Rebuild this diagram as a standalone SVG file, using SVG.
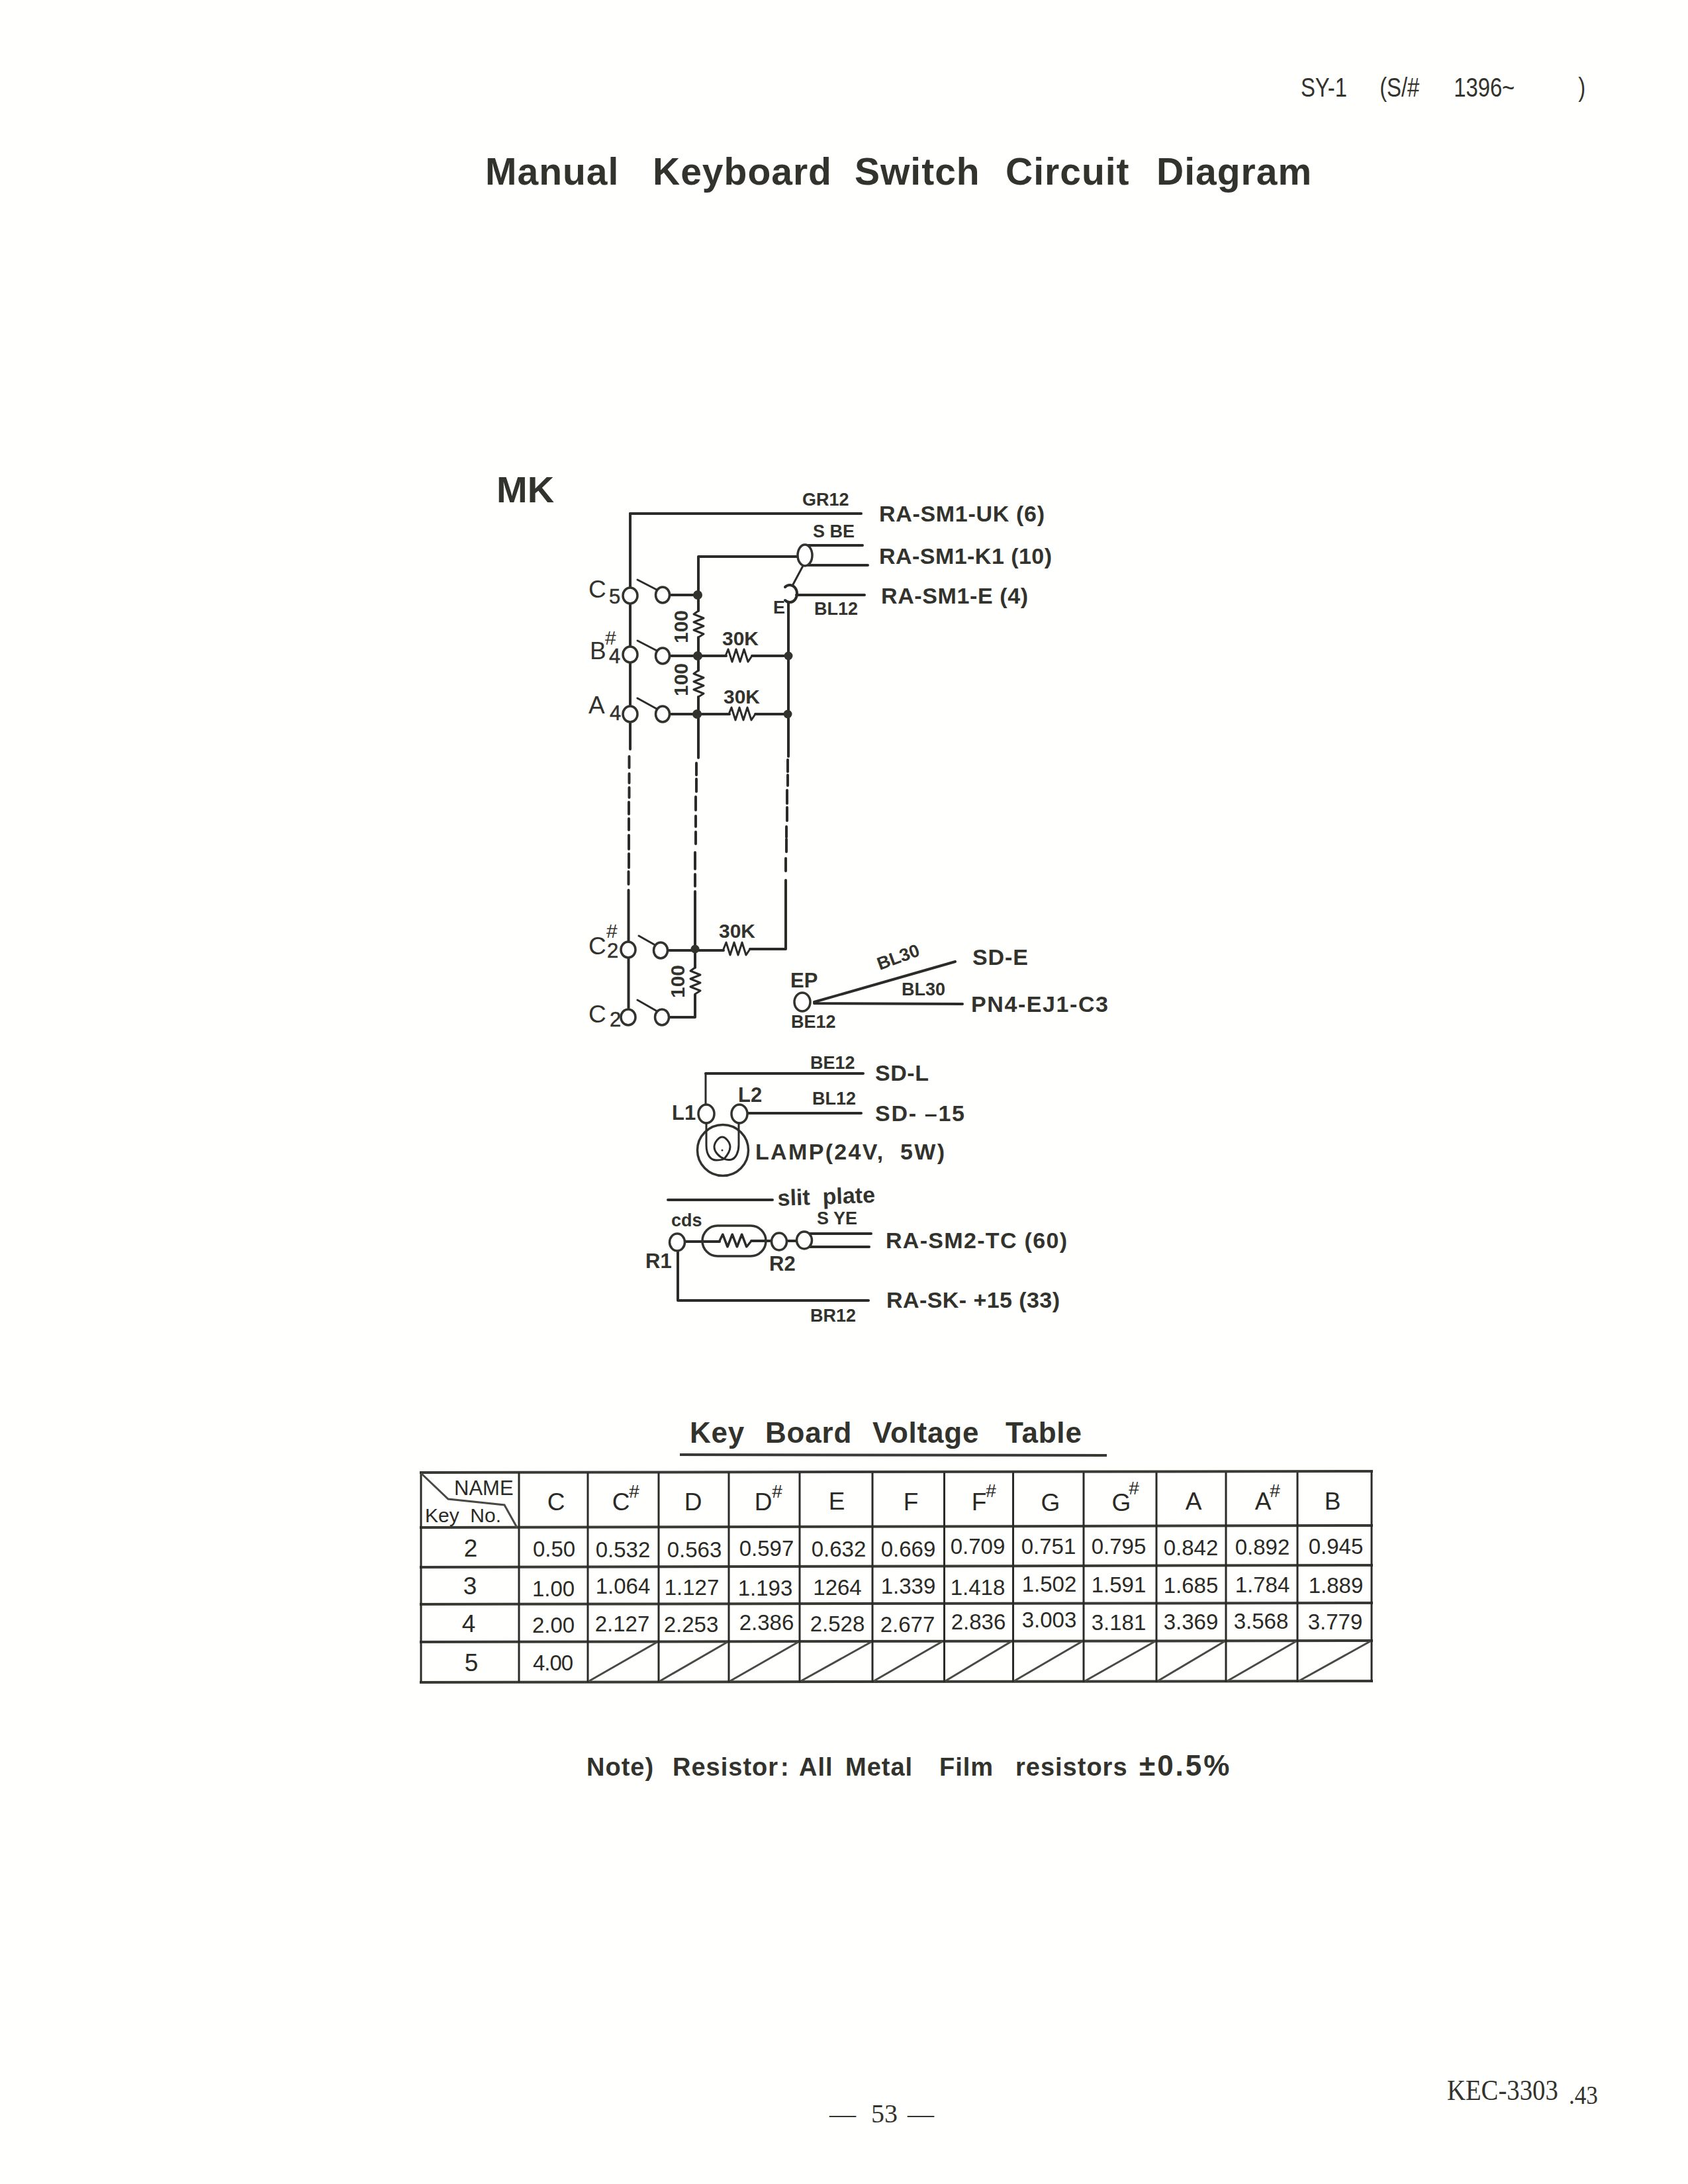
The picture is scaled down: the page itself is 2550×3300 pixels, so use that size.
<svg xmlns="http://www.w3.org/2000/svg" width="2550" height="3300" viewBox="0 0 2550 3300">
<style>
text{font-family:"Liberation Sans",Arial,sans-serif;fill:#33332e}
.b{font-weight:700}
.title{font-size:57px;letter-spacing:1px;font-weight:700}
.ttl2{font-size:44px;letter-spacing:.8px;font-weight:700}
.note{font-size:38px;letter-spacing:1px;font-weight:700}
.pct{font-size:44px;letter-spacing:3px}
.lab{font-size:34px;font-weight:700}
.wire{font-size:27px;font-weight:700}
.res{font-size:30px;font-weight:700}
.pin{font-size:31px;font-weight:700}
.key{font-size:37px}
.sub{font-size:31px;stroke:#33332e;stroke-width:.5px}
.sh{font-size:30px}
.t{font-size:33px;text-anchor:middle;fill:#2a2a26}
.h{font-size:37px;text-anchor:middle;fill:#2a2a26}
.s{font-size:28px;fill:#2a2a26}
.nm{font-size:31px;fill:#2a2a26}
.serif{font-family:"Liberation Serif","Times New Roman",serif}
.w{fill:none;stroke:#2b2b27;stroke-width:4;stroke-linecap:round;stroke-linejoin:round}
.thin{fill:none;stroke:#2b2b27;stroke-width:3;stroke-linecap:round;stroke-linejoin:round}
.term{fill:#fff;stroke:#33332e;stroke-width:3.5}
.dot{fill:#33332e}
.tl{stroke:#3a3a35;stroke-width:4;stroke-linecap:square;fill:none}
.tv{stroke:#2a2a26;stroke-width:3;fill:none}
.ts{stroke:#4a4a44;stroke-width:3;fill:none}
</style>
<defs>
<path id="rh" class="thin" d="M0 0L4 -10L10 9L16 -10L22 9L28 -10L34 9L40 0"/>
<path id="rv" class="thin" d="M0 0L-7 5L8 11L-7 17L8 23L-7 29L8 35L0 40"/>
</defs>
<rect width="2550" height="3300" fill="#fffffd"/>

<g id="header">
<text transform="translate(1965 146) scale(.8 1)" font-size="41"><tspan x="0">SY-1</tspan> <tspan x="149">(S/#</tspan> <tspan x="289">1396~</tspan> <tspan x="524">)</tspan></text>
<text class="title" y="279"><tspan x="733">Manual</tspan> <tspan x="986">Keyboard</tspan> <tspan x="1291">Switch</tspan> <tspan x="1519">Circuit</tspan> <tspan x="1747">Diagram</tspan></text>
<text x="750" y="759" font-size="56" class="b">MK</text>
</g>

<g id="connectors">
<path class="w" d="M952 776H1301"/>
<path class="w" d="M952 776V890M952 912V976M952 1002V1066M952 1092V1132"/>
<path class="w" d="M950.500 1143V1160M950.500 1169V1183M950.500 1190V1205M950 1212V1230M950 1237V1254M950 1262V1283M950 1290V1311M949.500 1317V1336M949.500 1345V1422M949.500 1448V1523"/>
<path class="w" d="M1055 841H1205M1055 841V923M1055 963V1013M1055 1053V1145"/>
<path class="w" d="M1052 1153V1171M1052 1177V1196M1051 1204V1224M1051 1233V1249M1051 1257V1275M1050 1288V1313M1050 1321V1339M1050 1347V1462M1050 1503V1537H1012"/>
<path class="w" d="M1216 824H1303M1216 854H1311M1203 899H1306M1191 910V1143"/>
<path class="thin" d="M1213 855L1197 885"/>
<path class="w" d="M1190 1148V1166M1190 1171V1187M1189 1194V1214M1189 1220V1240M1188 1249V1265M1188 1268V1287M1187 1297V1316M1187 1330V1434H1133"/>
<path class="w" d="M1011 899H1055M1011 991H1097M1136 991H1191M1011 1079H1102M1141 1079H1191M1008 1436H1093"/>
<path class="w" d="M1230 1514L1443 1453M1230 1516L1454 1517"/>
<path class="w" d="M1066 1622H1304M1129 1682H1301"/>
<path class="thin" d="M1066 1622V1670"/>
<path class="w" d="M1009 1813H1167"/>
<path class="w" d="M1034 1876H1087M1135 1875H1166M1188 1875H1204M1215 1864H1316M1215 1884H1313"/>
<path class="w" d="M1024 1890V1965H1312"/>
</g>

<g id="resistors">
<use href="#rv" x="1055" y="923"/>
<use href="#rv" x="1055" y="1013"/>
<use href="#rv" x="1050" y="1462"/>
<use href="#rh" x="1096" y="991"/>
<use href="#rh" x="1101" y="1079"/>
<use href="#rh" x="1093" y="1434"/>
<text class="res" transform="translate(1039 947) rotate(-90)" text-anchor="middle">100</text>
<text class="res" transform="translate(1039 1027) rotate(-90)" text-anchor="middle">100</text>
<text class="res" transform="translate(1034 1483) rotate(-90)" text-anchor="middle">100</text>
<text class="res" x="1091" y="975">30K</text>
<text class="res" x="1093" y="1063">30K</text>
<text class="res" x="1086" y="1417">30K</text>
</g>

<g id="key-C5">
<ellipse class="term" cx="952" cy="900" rx="11" ry="12"/><ellipse class="term" cx="1001" cy="899" rx="10.500" ry="12"/>
<path class="thin" d="M963 876L992 891"/><circle class="dot" cx="1054" cy="899" r="7"/>
<text class="key"><tspan x="889" y="903">C</tspan><tspan class="sub" x="920" y="912">5</tspan></text>
</g>
<g id="key-B4">
<ellipse class="term" cx="952" cy="989" rx="11" ry="12"/><ellipse class="term" cx="1001" cy="991" rx="10.500" ry="12"/>
<path class="thin" d="M963 968L992 983"/><circle class="dot" cx="1054" cy="991" r="7"/><circle class="dot" cx="1191" cy="991" r="6.500"/>
<text class="key"><tspan x="891" y="996">B</tspan><tspan class="sh" x="914" y="974">#</tspan><tspan class="sub" x="920" y="1002">4</tspan></text>
</g>
<g id="key-A4">
<ellipse class="term" cx="952" cy="1079" rx="11" ry="12"/><ellipse class="term" cx="1001" cy="1079" rx="10.500" ry="12"/>
<path class="thin" d="M963 1055L992 1071"/><circle class="dot" cx="1053" cy="1079" r="7"/><circle class="dot" cx="1190" cy="1079" r="6.500"/>
<text class="key"><tspan x="889" y="1078">A</tspan><tspan class="sub" x="921" y="1088">4</tspan></text>
</g>
<g id="key-C2s">
<ellipse class="term" cx="949" cy="1435" rx="11" ry="12"/><ellipse class="term" cx="998" cy="1436" rx="10.500" ry="12"/>
<path class="thin" d="M965 1414L988 1427"/><circle class="dot" cx="1050" cy="1434" r="6.500"/>
<text class="key"><tspan x="889" y="1442">C</tspan><tspan class="sh" x="916" y="1417">#</tspan><tspan class="sub" x="917" y="1447">2</tspan></text>
</g>
<g id="key-C2">
<ellipse class="term" cx="949" cy="1537" rx="11" ry="12"/><ellipse class="term" cx="1000" cy="1537" rx="10.500" ry="12"/>
<path class="thin" d="M963 1511L991 1527"/>
<text class="key"><tspan x="889" y="1545">C</tspan><tspan class="sub" x="921" y="1551">2</tspan></text>
</g>

<g id="wire-labels-top">
<text class="wire" x="1212" y="764">GR12</text>
<text class="wire" x="1228" y="812">S BE</text>
<text class="wire" x="1230" y="929">BL12</text>
<text class="lab" x="1328" y="788" textLength="250">RA-SM1-UK (6)</text>
<text class="lab" x="1328" y="852" textLength="261">RA-SM1-K1 (10)</text>
<text class="lab" x="1331" y="912" textLength="222">RA-SM1-E (4)</text>
</g>
<g id="shield-k1">
<ellipse class="term" cx="1216" cy="839" rx="11" ry="16"/>
</g>
<g id="terminal-E">
<path class="w" d="M1186 887A11 13 0 1 1 1186 907" fill="#fff"/>
<text class="pin" x="1168" y="927" style="font-size:27px">E</text>
</g>

<g id="terminal-EP">
<ellipse class="term" cx="1212" cy="1514" rx="12" ry="14"/>
<text class="pin" x="1194" y="1492">EP</text>
<text class="wire" x="1195" y="1553">BE12</text>
<text class="wire" transform="translate(1329 1466) rotate(-20)">BL30</text>
<text class="wire" x="1362" y="1504">BL30</text>
<text class="lab" x="1469" y="1458" textLength="84">SD-E</text>
<text class="lab" x="1467" y="1529" textLength="207">PN4-EJ1-C3</text>
</g>

<g id="lamp">
<ellipse class="term" cx="1067" cy="1683" rx="12" ry="14"/>
<ellipse class="term" cx="1117" cy="1683" rx="12" ry="14"/>
<circle cx="1092" cy="1738" r="38.500" fill="none" stroke="#33332e" stroke-width="3.500"/>
<path class="thin" d="M1067 1697V1730C1067 1746 1074 1753 1082 1753C1088 1753 1092 1752 1094 1751C1100 1744 1103 1738 1103 1733C1103 1726 1096 1718 1091 1718C1086 1718 1079 1726 1079 1733C1079 1740 1086 1748 1094 1751C1098 1753 1101 1753 1105 1752C1112 1750 1116 1740 1116 1730V1697"/>
<circle class="dot" cx="1091" cy="1738" r="1.500"/>
<text class="wire" x="1224" y="1615">BE12</text>
<text class="wire" x="1227" y="1669">BL12</text>
<text class="lab" x="1322" y="1633" textLength="81">SD-L</text>
<text class="lab" x="1322" y="1694" textLength="135">SD- –15</text>
<text class="pin" x="1015" y="1692">L1</text>
<text class="pin" x="1115" y="1665">L2</text>
<text class="lab" x="1141" y="1752" textLength="286">LAMP(24V,&#160;&#160;5W)</text>
</g>

<g id="cds">
<ellipse class="term" cx="1023" cy="1877" rx="11.500" ry="13"/>
<rect x="1061" y="1852" width="96" height="46" rx="23" fill="none" stroke="#33332e" stroke-width="3.500"/>
<use href="#rh" transform="translate(1087 1875) scale(1.200 1)"/>
<ellipse class="term" cx="1177" cy="1876" rx="11.500" ry="13"/>
<ellipse class="term" cx="1215" cy="1874" rx="11.500" ry="13"/>
<text class="lab" transform="translate(1175 1822) rotate(-2)">slit&#160;&#160;plate</text>
<text class="wire" x="1014" y="1853">cds</text>
<text class="wire" x="1234" y="1850">S YE</text>
<text class="pin" x="975" y="1916">R1</text>
<text class="pin" x="1162" y="1920">R2</text>
<text class="wire" x="1224" y="1997">BR12</text>
<text class="lab" x="1338" y="1886" textLength="274">RA-SM2-TC (60)</text>
<text class="lab" x="1339" y="1976" textLength="262">RA-SK- +15 (33)</text>
</g>

<g id="voltage-table">
<text class="ttl2" y="2180"><tspan x="1042">Key</tspan> <tspan x="1156">Board</tspan> <tspan x="1318">Voltage</tspan> <tspan x="1519">Table</tspan></text>
<path class="tl" d="M1029 2198L1670 2199"/>
<path class="tl" d="M636 2225L2072 2223M636 2308L2072 2305M636 2368L2072 2365M636 2424L2072 2422M636 2481L2072 2479M636 2542L2072 2540"/>
<path class="tv" d="M636 2225V2542M784 2225V2542M888 2225V2542M995 2225V2542M1101 2225V2542M1208 2225V2542M1318 2225V2542M1426.500 2225V2542M1530.500 2225V2542M1637 2225V2542M1747 2225V2542M1852 2225V2542M1960 2225V2542M2072 2223V2541"/>
<path class="ts" d="M636 2226L677 2265L762 2274L781 2308"/>
<path class="ts" d="M890 2540L993 2481M997 2540L1099 2481M1103 2540L1206 2481M1210 2540L1316 2481M1320 2540L1424 2480M1428 2540L1528 2480M1532 2540L1635 2480M1639 2540L1745 2480M1749 2540L1850 2480M1854 2540L1958 2480M1962 2540L2070 2480"/>
<text class="nm" x="686" y="2259">NAME</text>
<text class="nm" x="642" y="2300" style="font-size:30px">Key&#160;&#160;No.</text>
<text class="h" x="840" y="2282">C</text>
<text class="h"><tspan x="938" y="2282">C</tspan><tspan class="s" x="958" y="2263">#</tspan></text>
<text class="h" x="1047" y="2282">D</text>
<text class="h"><tspan x="1153" y="2282">D</tspan><tspan class="s" x="1174" y="2263">#</tspan></text>
<text class="h" x="1264" y="2281">E</text>
<text class="h" x="1376" y="2282">F</text>
<text class="h"><tspan x="1479" y="2282">F</tspan><tspan class="s" x="1497" y="2262">#</tspan></text>
<text class="h" x="1587" y="2283">G</text>
<text class="h"><tspan x="1694" y="2283">G</tspan><tspan class="s" x="1713" y="2258">#</tspan></text>
<text class="h" x="1803" y="2281">A</text>
<text class="h"><tspan x="1908" y="2281">A</tspan><tspan class="s" x="1926" y="2262">#</tspan></text>
<text class="h" x="2013" y="2281">B</text>

<text class="h" x="711" y="2352">2</text>
<text class="t" x="837" y="2352">0.50</text>
<text class="t" x="941" y="2353">0.532</text>
<text class="t" x="1049" y="2353">0.563</text>
<text class="t" x="1158" y="2351">0.597</text>
<text class="t" x="1267" y="2352">0.632</text>
<text class="t" x="1372" y="2352">0.669</text>
<text class="t" x="1477" y="2348">0.709</text>
<text class="t" x="1584" y="2348">0.751</text>
<text class="t" x="1690" y="2348">0.795</text>
<text class="t" x="1799" y="2350">0.842</text>
<text class="t" x="1907" y="2349">0.892</text>
<text class="t" x="2018" y="2348">0.945</text>

<text class="h" x="710" y="2409">3</text>
<text class="t" x="836" y="2412">1.00</text>
<text class="t" x="941" y="2408">1.064</text>
<text class="t" x="1045" y="2410">1.127</text>
<text class="t" x="1156" y="2411">1.193</text>
<text class="t" x="1265" y="2410">1264</text>
<text class="t" x="1372" y="2408">1.339</text>
<text class="t" x="1477" y="2410">1.418</text>
<text class="t" x="1585" y="2405">1.502</text>
<text class="t" x="1690" y="2406">1.591</text>
<text class="t" x="1799" y="2407">1.685</text>
<text class="t" x="1907" y="2406">1.784</text>
<text class="t" x="2018" y="2407">1.889</text>

<text class="h" x="708" y="2466">4</text>
<text class="t" x="836" y="2467">2.00</text>
<text class="t" x="940" y="2465">2.127</text>
<text class="t" x="1044" y="2466">2.253</text>
<text class="t" x="1158" y="2463">2.386</text>
<text class="t" x="1265" y="2465">2.528</text>
<text class="t" x="1371" y="2466">2.677</text>
<text class="t" x="1478" y="2462">2.836</text>
<text class="t" x="1585" y="2459">3.003</text>
<text class="t" x="1690" y="2463">3.181</text>
<text class="t" x="1799" y="2462">3.369</text>
<text class="t" x="1905" y="2461">3.568</text>
<text class="t" x="2017" y="2462">3.779</text>

<text class="h" x="712" y="2525">5</text>
<text class="t" x="835" y="2524" style="letter-spacing:-1px">4.00</text>
</g>

<g id="footer">
<text class="note" y="2683"><tspan x="886">Note)</tspan> <tspan x="1016">Resistor</tspan> <tspan x="1179">:</tspan> <tspan x="1207">All</tspan> <tspan x="1277">Metal</tspan> <tspan x="1419">Film</tspan> <tspan x="1534">resistors</tspan> <tspan class="pct" x="1721">±0.5%</tspan></text>
<text class="serif" y="3207" font-size="40"><tspan x="1253">—</tspan> <tspan x="1316">53</tspan> <tspan x="1371">—</tspan></text>
<text class="serif" transform="translate(2186 3173) scale(.88 1)" font-size="44">KEC-3303<tspan x="209" y="6" font-size="40">.43</tspan></text>
</g>
</svg>
